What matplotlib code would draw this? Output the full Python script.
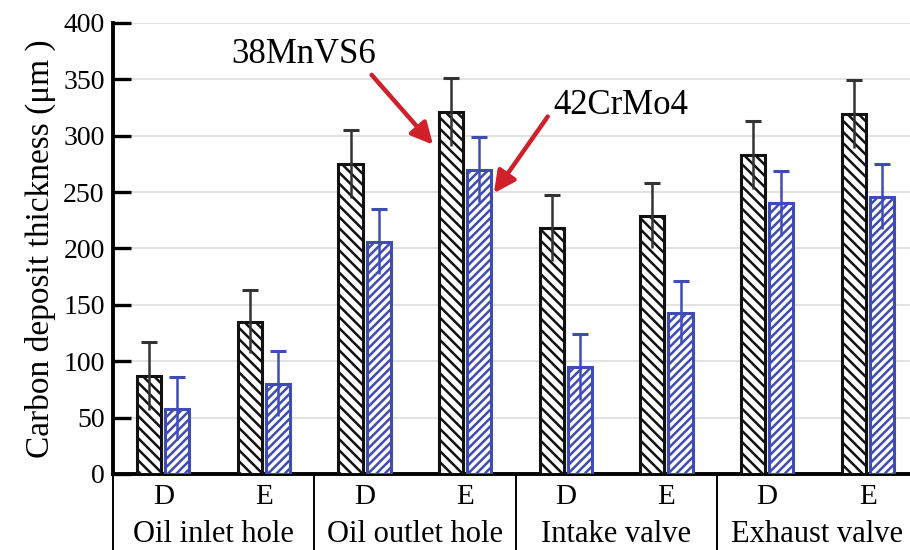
import numpy as np
import matplotlib.pyplot as plt
import matplotlib.transforms as mtrans

plt.rcParams["font.family"] = ["Liberation Serif", "DejaVu Serif"]
plt.rcParams["hatch.linewidth"] = 1.8

groups = ["Oil inlet hole", "Oil outlet hole", "Intake valve", "Exhaust valve"]
subs = ["D", "E"]

mnvs_vals = [87, 135, 275, 321, 218, 229, 283, 319]
mnvs_err = [30, 28, 30, 30, 29, 29, 30, 30]
crmo_vals = [58, 80, 206, 270, 95, 143, 240, 246]
crmo_err = [28, 29, 29, 29, 29, 28, 29, 29]

BLACK = "#111111"
BLUE = "#3f4cb5"
RED = "#d0202a"


def draw_series(ax, x, vals, err, color, hatch, ecolor):
    ax.bar(x, vals, width=0.24, facecolor="white", edgecolor=color,
           hatch=hatch, linewidth=2.2, zorder=3)
    vals = np.asarray(vals)
    err = np.asarray(err)
    ax.vlines(x, vals - err, vals + err, color=ecolor, lw=1.8, zorder=4)
    ax.plot(x, vals + err, ls="none", marker="_", ms=11, mew=2.2,
            color=ecolor, zorder=4)


fig = plt.figure(figsize=(9.1, 5.5), dpi=100)
ax = fig.add_axes([0.1242, 0.1382, 0.8758, 0.8200])

n = len(mnvs_vals)
xc = np.arange(n) + 0.5
draw_series(ax, xc - 0.14, mnvs_vals, mnvs_err, BLACK, "\\\\\\", "#333333")
draw_series(ax, xc + 0.14, crmo_vals, crmo_err, BLUE, "////", BLUE)

ax.set_xlim(0, 7.92)
ax.set_ylim(0, 400)
ax.set_yticks(np.arange(0, 401, 50))
ax.tick_params(axis="y", direction="in", length=13, width=2.4,
               labelsize=20, pad=6)
ax.set_xticks([])
ax.grid(axis="y", color="#dddddd", lw=1.2, zorder=0)
ax.spines[["top", "right"]].set_visible(False)
ax.spines["left"].set_linewidth(2.8)
ax.spines["bottom"].set_linewidth(2.8)
ax.set_ylabel("Carbon deposit thickness (μm )", fontsize=24, labelpad=5)

# two-level category axis
trans = mtrans.blended_transform_factory(ax.transData, ax.transAxes)
for i, x in enumerate(xc):
    ax.text(x, -0.052, subs[i % 2], transform=trans, ha="center",
            va="center", fontsize=21)
for g, name in enumerate(groups):
    ax.text(2 * g + 1, -0.135, name, transform=trans, ha="center",
            va="center", fontsize=22)
for b in range(0, n + 1, 2):
    ax.plot([b, b], [0, -0.17], transform=trans, color="black", lw=1.4,
            clip_on=False)

arrow = dict(arrowstyle="-|>,head_length=1.3,head_width=0.65", color=RED,
             lw=3.2, shrinkA=0, shrinkB=0)
ax.annotate("", xy=(3.18, 292), xytext=(2.57, 354), arrowprops=arrow)
ax.text(1.89, 372, "38MnVS6", fontsize=25, ha="center", va="center")
ax.annotate("", xy=(3.785, 249), xytext=(4.32, 317), arrowprops=arrow)
ax.text(5.05, 327, "42CrMo4", fontsize=25, ha="center", va="center")

fig.savefig("out.png", dpi=100)
